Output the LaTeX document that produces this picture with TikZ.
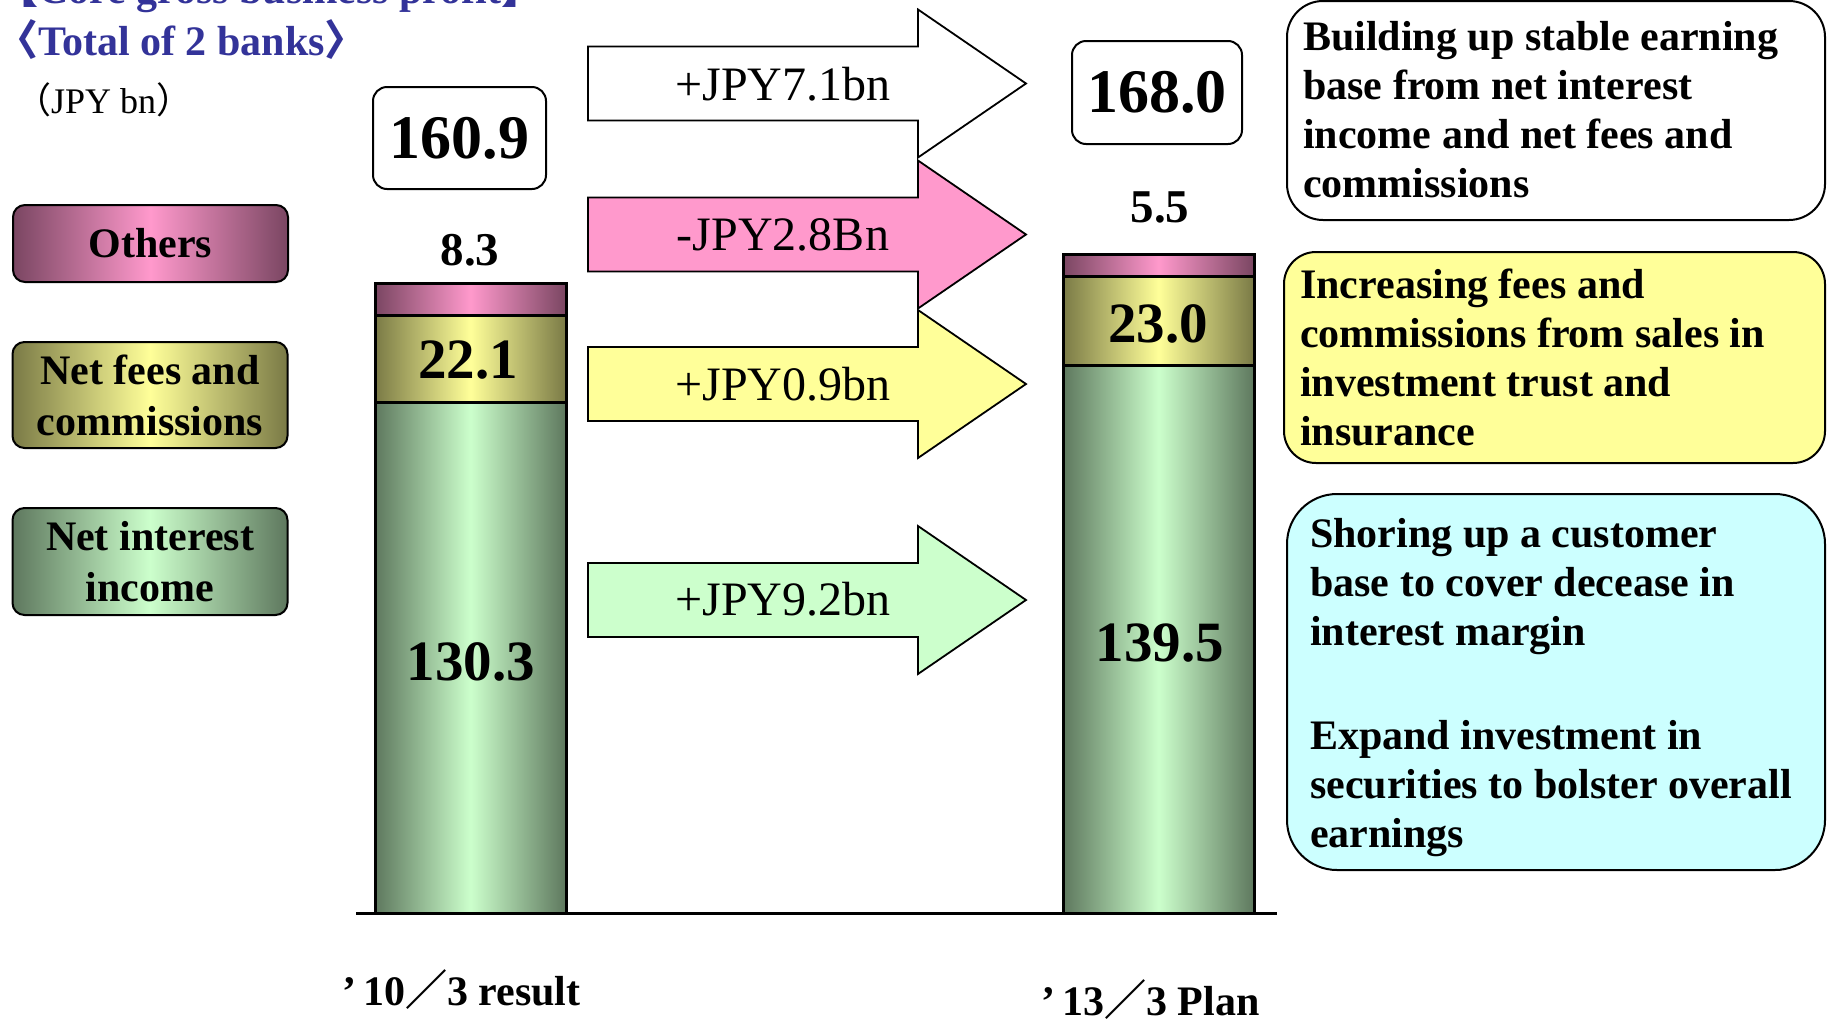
\documentclass[tikz,border=0pt]{standalone}
\usepackage{fontspec}
\setmainfont{Liberation Serif}
\newfontfamily\cjk{Noto Sans CJK JP}

\definecolor{titleblue}{HTML}{333399}
\definecolor{pinkL}{HTML}{FF99CC}
\definecolor{pinkD}{HTML}{7A4662}
\definecolor{yelL}{HTML}{FFFF99}
\definecolor{yelD}{HTML}{7A7A46}
\definecolor{grnL}{HTML}{CCFFCC}
\definecolor{grnD}{HTML}{5E785E}
\definecolor{cyanL}{HTML}{CCFFFF}

\newcommand\fsz[2]{\fontsize{#1}{#2}\selectfont}

% one broad block arrow centred on height #1, filled with #2
\newcommand\fatarrow[2]{%
  \draw[line width=1.8, fill=#2]
    (588,{#1-37}) -- (918,{#1-37}) -- (918,{#1-74}) -- (1026,{#1})
    -- (918,{#1+74}) -- (918,{#1+37}) -- (588,{#1+37}) -- cycle;}

\tikzset{
  lgd/.style={draw, line width=2, rounded corners=12, minimum width=275,
              inner sep=0, align=center, font=\bfseries\fsz{42}{51}},
  valbox/.style={draw, line width=2, rounded corners=14, inner sep=0,
              font=\bfseries\fsz{62}{62}},
  seglbl/.style={anchor=base, inner sep=0, font=\bfseries\fsz{57}{57}},
  toplbl/.style={anchor=base, inner sep=0, font=\bfseries\fsz{47}{47}},
  arrlbl/.style={anchor=base, inner sep=0, font=\fsz{48}{48}},
  notebox/.style={draw, line width=2, inner sep=0},
  % multi-line text: the base anchor sits on the last line
  notetxt/.style={anchor=base west, inner sep=0, align=left},
  barseg/.style={draw, line width=3},
  pinkshade/.style={left color=pinkD, right color=pinkD, middle color=pinkL},
  yelshade/.style={left color=yelD, right color=yelD, middle color=yelL},
  grnshade/.style={left color=grnD, right color=grnD, middle color=grnL},
}

\begin{document}
\begin{tikzpicture}[x=1pt, y=-1pt]
\useasboundingbox (0,0) rectangle (1828,1018);
\fill[white] (0,0) rectangle (1828,1018);

% heading
\node[anchor=base west, inner sep=0, text=titleblue, font=\bfseries\fsz{42}{42}]
  (head1) at (-4,3) {{\cjk\bfseries 【}Core gross business profit{\cjk\bfseries 】}};
\node[anchor=base west, inner sep=0, text=titleblue, font=\bfseries\fsz{42}{42}]
  (head2) at (-4,55) {{\cjk\bfseries 〈}Total of 2 banks{\cjk\bfseries 〉}};
\node[anchor=base west, inner sep=0, font=\fsz{36}{36}]
  (unit) at (15,113) {{\cjk （}JPY bn{\cjk ）}};

% legend
\node[lgd, pinkshade, minimum height=77]  (lgOthers) at (150.5,243.5) {Others};
\node[lgd, yelshade,  minimum height=106] (lgFees)   at (150,395) {Net fees and\\commissions};
\node[lgd, grnshade,  minimum height=107] (lgInt)    at (150,561.5) {Net interest\\income};

% left bar
\draw[barseg, grnshade]  (375,402) rectangle (566,913);
\draw[barseg, yelshade]  (375,315) rectangle (566,402);
\draw[barseg, pinkshade] (375,283) rectangle (566,315);
% right bar
\draw[barseg, grnshade]  (1063,365) rectangle (1254,913);
\draw[barseg, yelshade]  (1063,276) rectangle (1254,365);
\draw[barseg, pinkshade] (1063,254) rectangle (1254,276);
% axis
\draw[line width=3] (356,913) -- (1277,913);

% bar values
\node[toplbl] (vOthA) at (470,265) {8.3};
\node[seglbl] (vFeeA) at (468,378) {22.1};
\node[seglbl] (vIntA) at (471,680) {130.3};
\node[toplbl] (vOthB) at (1160,222) {5.5};
\node[seglbl] (vFeeB) at (1158,342) {23.0};
\node[seglbl] (vIntB) at (1160,661) {139.5};

% totals
\node[valbox, minimum width=173, minimum height=102] (totA) at (459.5,138) {160.9};
\node[valbox, minimum width=170, minimum height=103] (totB) at (1157,92.5) {168.0};

% change arrows
\fatarrow{83.5}{white}
\fatarrow{234.5}{pinkL}
\fatarrow{384}{yelL}
\fatarrow{600}{grnL}
\node[arrlbl] (dTot) at (783,100) {+JPY7.1bn};
\node[arrlbl] (dOth) at (783,250) {-JPY2.8Bn};
\node[arrlbl] (dFee) at (783,400) {+JPY0.9bn};
\node[arrlbl] (dInt) at (783,615) {+JPY9.2bn};

% category labels
\node[anchor=base west, inner sep=0, font=\bfseries\fsz{42}{42}]
  (catA) at (342,1005) {’\,10{\cjk\bfseries ／}3 result};
\node[anchor=base west, inner sep=0, font=\bfseries\fsz{42}{42}]
  (catB) at (1041,1015) {’\,13{\cjk\bfseries ／}3 Plan};

% notes on the right
\node[notebox, fill=white, rounded corners=36, minimum width=538, minimum height=219]
  (noteA) at (1556,110.5) {};
\node[notebox, fill=yelL, rounded corners=32, minimum width=541, minimum height=211]
  (noteB) at (1554.5,357.5) {};
\node[notebox, fill=cyanL, rounded corners=50, minimum width=538, minimum height=376]
  (noteC) at (1556,682) {};

\node[notetxt, font=\bfseries\fsz{42}{49}] (txtA) at (1303,197)
  {Building up stable earning\\base from net interest\\income and net fees and\\commissions};
\node[notetxt, font=\bfseries\fsz{42}{49}] (txtB) at (1300,445)
  {Increasing fees and\\commissions from sales in\\investment trust and\\insurance};
\node[notetxt, font=\bfseries\fsz{42}{49}] (txtC) at (1310,847)
  {Shoring up a customer\\base to cover decease in\\interest margin\\[55pt]Expand investment in\\securities to bolster overall\\earnings};
\end{tikzpicture}
\end{document}
